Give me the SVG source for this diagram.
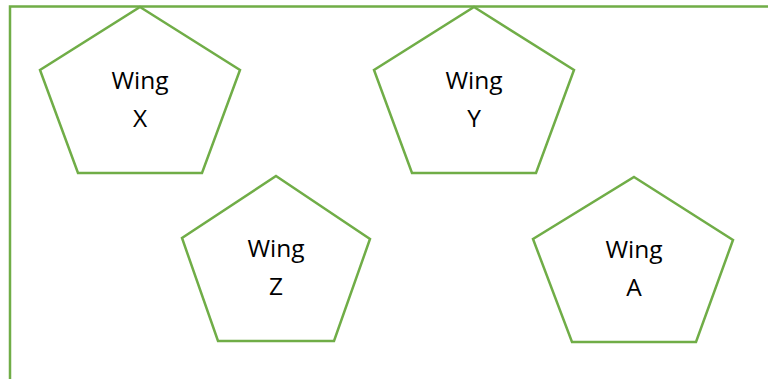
<svg xmlns="http://www.w3.org/2000/svg" width="768" height="379" viewBox="0 0 768 379">
<style>
.frame{fill:none;stroke:#70AD47;stroke-width:2.5}
.pent{fill:#ffffff;stroke:#70AD47;stroke-width:2.5;stroke-linejoin:miter}
.lbl{font-family:"Open Sans","Liberation Sans",sans-serif;font-size:24.5px;fill:#000000;text-anchor:middle}
</style>
<rect x="0" y="0" width="768" height="379" fill="#ffffff"/>
<rect id="frame" class="frame" x="10" y="6.5" width="790" height="400"/>
<g id="connectors"></g>
<g id="wing-x">
<polygon class="pent" points="140,7 240,70 202,173 78,173 40,70"/>
<text class="lbl" x="140" y="89">Wing</text>
<text class="lbl" x="140" y="127">X</text>
</g>
<g id="wing-y">
<polygon class="pent" points="474,7 574,70 536,173 412,173 374,70"/>
<text class="lbl" x="474" y="89">Wing</text>
<text class="lbl" x="474" y="127">Y</text>
</g>
<g id="wing-z">
<polygon class="pent" points="276,176 370,239 334,341 218,341 182,238"/>
<text class="lbl" x="276" y="257">Wing</text>
<text class="lbl" x="276" y="295">Z</text>
</g>
<g id="wing-a">
<polygon class="pent" points="634,177 733,240 696,342 572,342 533,239"/>
<text class="lbl" x="634" y="258">Wing</text>
<text class="lbl" x="634" y="296">A</text>
</g>
</svg>
